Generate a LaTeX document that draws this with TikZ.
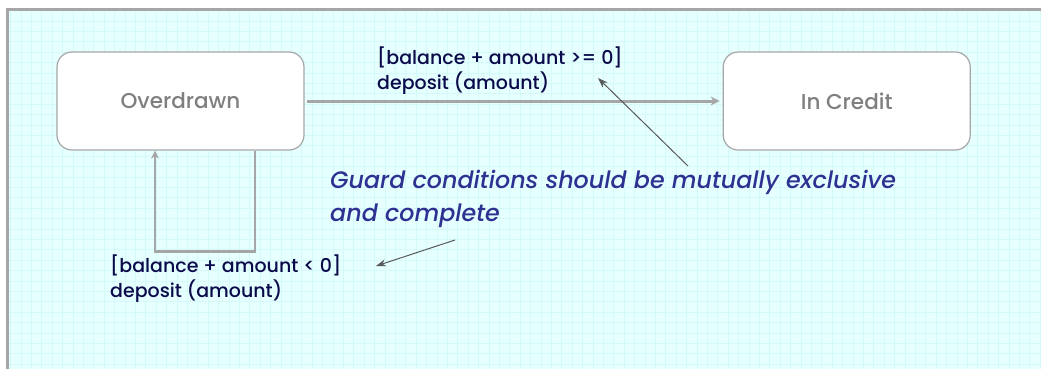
\documentclass[tikz,border=0pt]{standalone}
\usepackage{fontspec}
\setmainfont{Poppins}[UprightFont=* Medium, ItalicFont=* Medium Italic]
\usetikzlibrary{arrows.meta,positioning}

\definecolor{paper}{HTML}{E6FFFF}
\definecolor{gridline}{HTML}{D4F9F9}
\definecolor{framegray}{HTML}{A6A6A6}
\definecolor{stategray}{HTML}{7F7F7F}
\definecolor{guardnavy}{HTML}{0B0B4B}
\definecolor{noteblue}{HTML}{2E3192}

\begin{document}
\begin{tikzpicture}[
    x=1pt, y=-1pt,
    node distance=418pt,
    state/.style={draw=framegray, fill=white, rounded corners=15pt, line width=1.2pt, minimum width=247pt, minimum height=98pt, text=stategray, font=\fontsize{21.5}{24}\selectfont},
    guard/.style={anchor=north west, align=left, inner sep=0pt, text=guardnavy, font=\fontsize{19}{25}\selectfont},
    note/.style={anchor=north west, align=left, inner sep=0pt, text=noteblue, font=\itshape\fontsize{23.8}{33}\selectfont},
    link/.style={-{Stealth[length=9pt, width=9pt]}, draw=framegray, line width=3pt},
    pointer/.style={-{Stealth[length=10pt, width=7pt]}, draw=black!65, line width=1pt}
]
\useasboundingbox (0,0) rectangle (1041,368);
\clip (0,0) rectangle (1041,368);
% squared paper and frame
\fill[paper] (7.5,9) rectangle (1060,380);
\draw[gridline, step=10.4pt] (9,10) grid (1060,380);
\draw[framegray, line width=3pt] (7.5,9) rectangle (1060,380);

% states
\node[state] (overdrawn) at (180.5,101) {Overdrawn};
\node[state, right=of overdrawn] (incredit) {In Credit};

% transitions
\draw[link, shorten <=2pt, shorten >=3pt] (overdrawn) -- (incredit);
\draw[link, -{Stealth[length=8pt, width=8pt]}, line width=2.8pt] ([xshift=74.5pt]overdrawn.south) -- ++(0,101) -| ([xshift=-25.5pt]overdrawn.south);

% guards
\node[guard] (guardup) at (377,47) {[balance + amount >= 0]\\deposit (amount)};
\node[guard] (guarddown) at (110,255) {[balance + amount < 0]\\deposit (amount)};

% remark
\node[note] (remark) at (330,170) {Guard conditions should be mutually exclusive\\and complete};
\coordinate (upfoot) at (688,166);
\coordinate (uptip) at (598,78);
\coordinate (downfoot) at (455,240);
\coordinate (downtip) at (376,266);
\draw[pointer] (upfoot) -- (uptip);
\draw[pointer] (downfoot) -- (downtip);
\end{tikzpicture}
\end{document}
